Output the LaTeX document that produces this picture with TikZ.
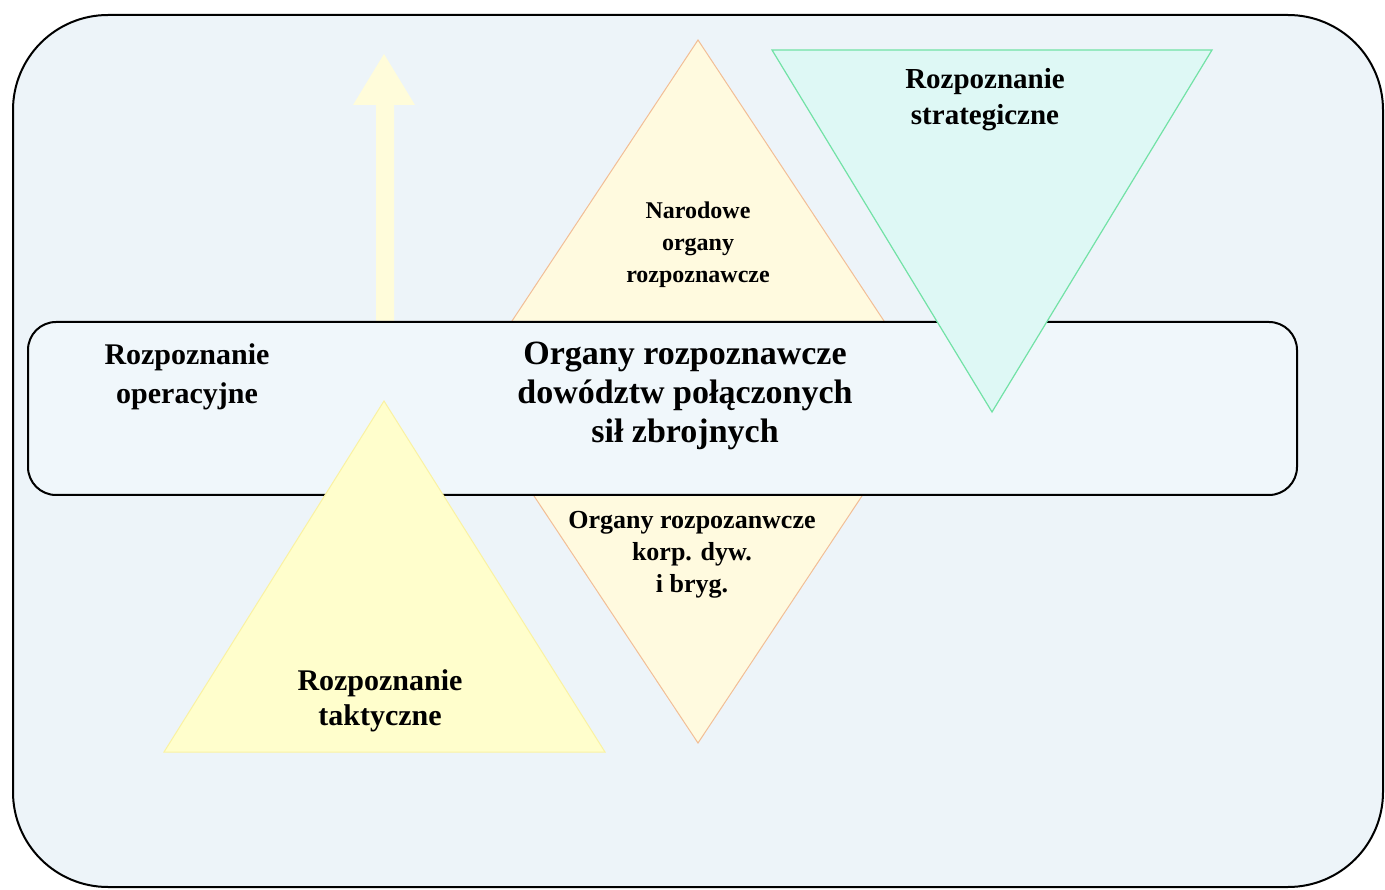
\documentclass[tikz,border=0pt]{standalone}
\usepackage{fontspec}
\setmainfont{Liberation Serif}
\definecolor{pagebg}{HTML}{EDF4F9}
\definecolor{boxbg}{HTML}{F0F7FB}
\definecolor{arrowyel}{HTML}{FFFCDA}
\definecolor{diafill}{HTML}{FFFADF}
\definecolor{diaedge}{HTML}{F2BE96}
\definecolor{tacfill}{HTML}{FFFECC}
\definecolor{tacedge}{HTML}{FAF2A2}
\definecolor{strfill}{HTML}{DEF8F5}
\definecolor{stredge}{HTML}{72E2A6}
\begin{document}
\begin{tikzpicture}[x=1pt,y=-1pt,
  lbl/.style={align=center,text=black,inner sep=0pt},
  frame/.style={draw=black,line width=2pt},
]
\useasboundingbox (0,0) rectangle (1385,890);
\fill[white] (0,0) rectangle (1385,890);
% outer frame
\path[frame,fill=pagebg,rounded corners=95pt] (13,15) rectangle (1383,887);
% upward arrow
\fill[arrowyel] (376,330) -- (376,105) -- (353,105) -- (384,54) -- (415,105) -- (394,105) -- (394,330) -- cycle;
% diamond
\path[fill=diafill,draw=diaedge,line width=1pt] (698,40) -- (931,392) -- (698,743) -- (465,392) -- cycle;
% inner band
\path[frame,fill=boxbg,rounded corners=28pt] (28,322) rectangle (1297,495);
% tactical triangle
\path[fill=tacfill,draw=tacedge,line width=1pt] (384,401) -- (605,752) -- (164,752) -- cycle;
% strategic triangle
\path[fill=strfill,draw=stredge,line width=1.2pt] (772,50) -- (1212,50) -- (992,412) -- cycle;
% labels
\node[lbl,font=\fontsize{29}{36}\selectfont\bfseries] (strat) at (985,100) {Rozpoznanie\\strategiczne};
\node[lbl,font=\fontsize{24}{32}\selectfont\bfseries] (narod) at (698,245) {Narodowe\\organy\\rozpoznawcze};
\node[lbl,font=\fontsize{34}{39}\selectfont\bfseries] (tytul) at (685,396) {Organy rozpoznawcze\\dowództw połączonych\\sił zbrojnych};
\node[lbl,font=\fontsize{30}{39}\selectfont\bfseries] (oper) at (187,377) {Rozpoznanie\\operacyjne};
\node[lbl,font=\fontsize{26}{32}\selectfont\bfseries] (korp) at (692,555) {Organy rozpozanwcze\\korp. dyw.\\i bryg.};
\node[lbl,font=\fontsize{30}{35}\selectfont\bfseries] (takt) at (380,701) {Rozpoznanie\\taktyczne};
\end{tikzpicture}
\end{document}
